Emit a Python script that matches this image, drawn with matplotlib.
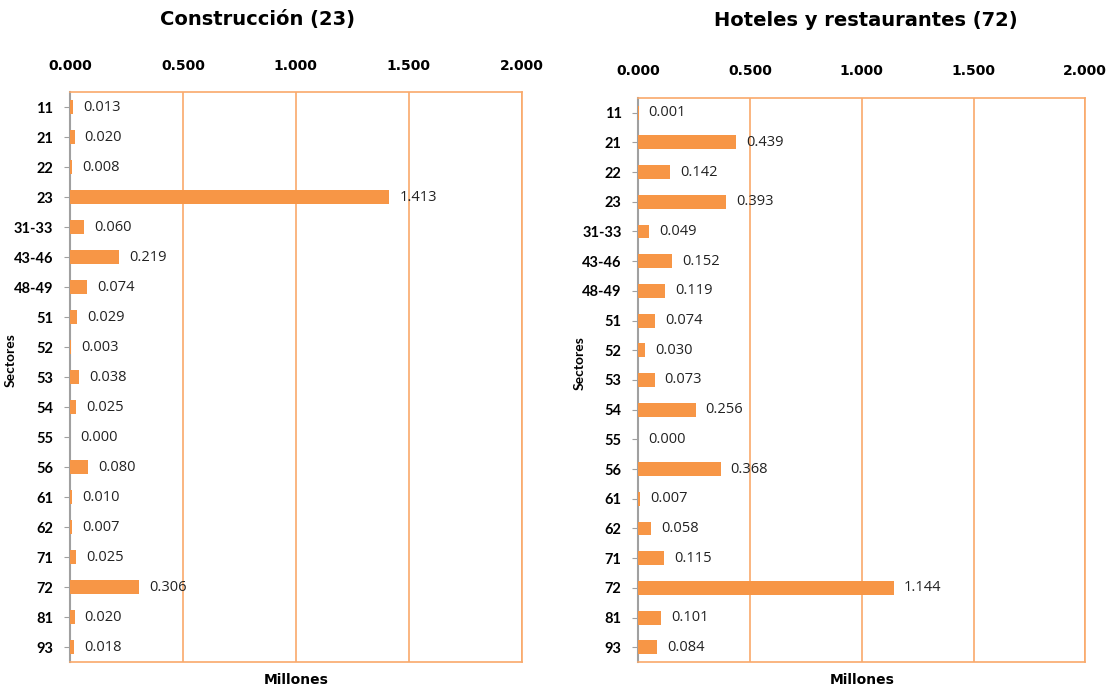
import matplotlib.pyplot as plt

sectores = ["11", "21", "22", "23", "31-33", "43-46", "48-49", "51", "52", "53",
            "54", "55", "56", "61", "62", "71", "72", "81", "93"]
construccion = [0.013, 0.020, 0.008, 1.413, 0.060, 0.219, 0.074, 0.029, 0.003, 0.038,
                0.025, 0.000, 0.080, 0.010, 0.007, 0.025, 0.306, 0.020, 0.018]
hoteles = [0.001, 0.439, 0.142, 0.393, 0.049, 0.152, 0.119, 0.074, 0.030, 0.073,
           0.256, 0.000, 0.368, 0.007, 0.058, 0.115, 1.144, 0.101, 0.084]
xticks = [0.0, 0.5, 1.0, 1.5, 2.0]

NARANJA = "#F79646"
GRID = "#F9A96B"

fig = plt.figure(figsize=(11.12, 6.89), dpi=100)
ax1 = fig.add_axes([0.063, 0.039, 0.406, 0.827])
ax2 = fig.add_axes([0.574, 0.039, 0.402, 0.819])


def panel(ax, valores, titulo, title_x, title_y):
    pos = list(range(len(sectores)))
    ax.barh(pos, valores, height=0.47, color=NARANJA, zorder=3)
    ax.set_xlim(0, 2.0)
    ax.set_ylim(len(sectores) - 0.5, -0.5)
    ax.set_yticks(pos)
    ax.set_yticklabels(sectores, fontsize=10.5, fontweight="bold", family="Lato")
    ax.set_xticks(xticks)
    ax.set_xticklabels([f"{t:.3f}" for t in xticks], fontsize=10, fontweight="bold")
    ax.xaxis.tick_top()
    ax.tick_params(axis="x", length=0, pad=14)
    ax.tick_params(axis="y", length=4, color="#A0A0A0", pad=8)
    ax.grid(axis="x", color=GRID, lw=1.2, zorder=0)
    for s in ["top", "right", "bottom"]:
        ax.spines[s].set_color(GRID)
        ax.spines[s].set_linewidth(1.2)
    ax.spines["left"].set_color("#A0A0A0")
    ax.spines["left"].set_linewidth(1.5)
    for p, v in zip(pos, valores):
        ax.text(v + 0.045, p, f"{v:.3f}", va="center", ha="left", fontsize=10.5,
                family="Open Sans", color="#222222", zorder=4)
    ax.set_xlabel("Millones", fontsize=10, fontweight="bold", labelpad=8)
    ax.set_ylabel("Sectores", fontsize=10, fontweight="bold", family="Lato")
    ax.yaxis.set_label_coords(-0.118, 0.53)
    fig.text(title_x, title_y, titulo, ha="center", va="center",
             fontsize=14, fontweight="bold")


panel(ax1, construccion, "Construcción (23)", 258 / 1112, 1 - 20 / 689)
panel(ax2, hoteles, "Hoteles y restaurantes (72)", 866 / 1112, 1 - 20 / 689)

fig.savefig("out.png", dpi=100)
